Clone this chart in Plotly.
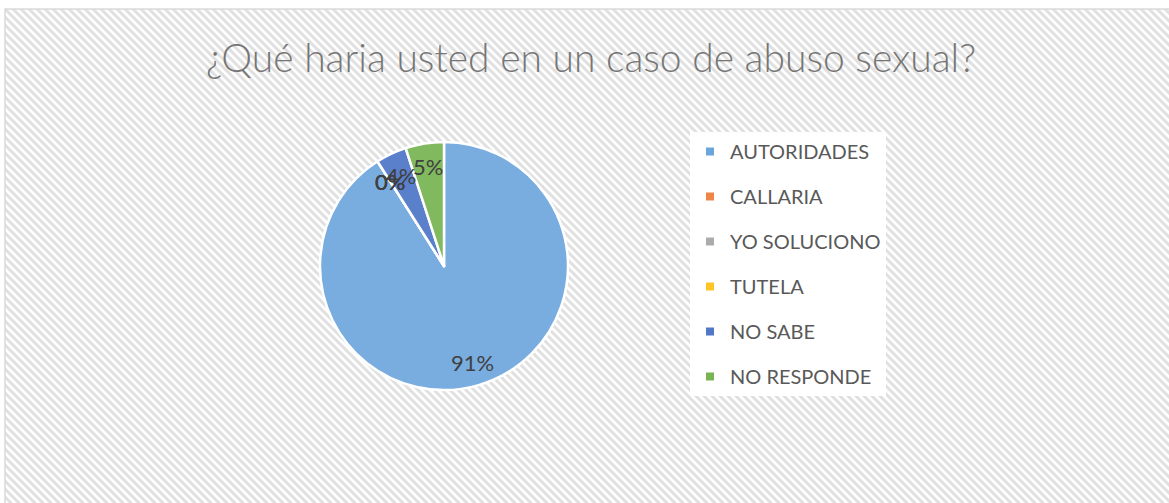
import base64, math
import plotly.graph_objects as go

W, H = 1169, 503

categories = ["AUTORIDADES", "CALLARIA", "YO SOLUCIONO", "TUTELA", "NO SABE", "NO RESPONDE"]
values = [91, 0, 0, 0, 4, 5]
slice_colors = ["#79ade0", "#ed7d31", "#a5a5a5", "#ffc000", "#5a80cc", "#80b95e"]
legend_colors = ["#6aa5dc", "#ee8648", "#acacac", "#ffc526", "#5377c8", "#79b452"]
title_text = "¿Qué haria usted en un caso de abuso sexual?"

# pie geometry (pixels)
CX, CY, R = 444, 266, 124

# hatched background (Excel "wide downward diagonal")
bw, bh = W - 5, H - 9
svg = (
    f"<svg xmlns='http://www.w3.org/2000/svg' width='{bw}' height='{bh}' viewBox='0 0 {bw} {bh}'>"
    "<defs><pattern id='p' width='8' height='8' patternUnits='userSpaceOnUse'>"
    "<rect width='8' height='8' fill='#ffffff'/>"
    "<path d='M-2,6 l4,4 M0,0 l8,8 M6,-2 l4,4' stroke='#e0e0e0' stroke-width='3'/>"
    "</pattern></defs>"
    f"<rect width='{bw}' height='{bh}' fill='url(#p)'/></svg>"
)
src = "data:image/svg+xml;base64," + base64.b64encode(svg.encode()).decode()

fig = go.Figure()
fig.add_trace(go.Pie(
    labels=categories, values=values, sort=False, direction="clockwise", rotation=0,
    marker=dict(colors=slice_colors, line=dict(color="white", width=2.5)),
    textinfo="none", showlegend=False, hoverinfo="label+percent",
    domain=dict(x=[(CX - R) / W, (CX + R) / W], y=[(H - CY - R) / H, (H - CY + R) / H]),
))

# legend entries via dummy traces (allows Excel-like spacing)
for cat, col in zip(categories, legend_colors):
    fig.add_trace(go.Scatter(
        x=[None], y=[None], mode="markers", name=cat, legendgroup=cat,
        marker=dict(symbol="square", size=8, color=col), hoverinfo="skip",
    ))

# data labels at 0.81 R along each slice's mid-angle
total = sum(values)
cum = 0
annotations = []
for v in values:
    mid = 90 - (cum + v / 2) / total * 360
    cum += v
    px = CX + 0.81 * R * math.cos(math.radians(mid))
    py = CY - 0.81 * R * math.sin(math.radians(mid))
    annotations.append(dict(
        x=px / W, y=1 - py / H, xref="paper", yref="paper", showarrow=False,
        text=f"{round(v / total * 100)}%", xanchor="center", yanchor="middle",
        font=dict(family="Lato, Open Sans, sans-serif", size=22, color="#404040"),
    ))

fig.update_layout(
    width=W, height=H, margin=dict(l=0, r=0, t=0, b=0),
    paper_bgcolor="white", plot_bgcolor="rgba(0,0,0,0)",
    xaxis=dict(visible=False), yaxis=dict(visible=False),
    images=[dict(source=src, xref="paper", yref="paper", x=5 / W, y=1 - 9 / H,
                 sizex=bw / W, sizey=bh / H, sizing="stretch", xanchor="left",
                 yanchor="top", layer="below")],
    shapes=[dict(type="rect", xref="paper", yref="paper", x0=5 / W, x1=1.01,
                 y0=-0.01, y1=1 - 9 / H, line=dict(color="#d9d9d9", width=1.5),
                 fillcolor="rgba(0,0,0,0)", layer="below")],
    title=dict(text=title_text, x=591 / W, xanchor="center", y=1 - 58 / H,
               yanchor="middle", xref="paper", yref="container",
               font=dict(family="Lato, Open Sans, sans-serif", size=39,
                         color="#767676", weight=300)),
    legend=dict(x=690 / W, y=1 - 132 / H, xanchor="left", yanchor="top",
                bgcolor="white", traceorder="grouped", tracegroupgap=16,
                font=dict(family="Lato, Open Sans, sans-serif", size=20, color="#595959"),
                itemclick=False, itemdoubleclick=False),
    annotations=annotations,
)

fig.write_html("out.html", config={"displayModeBar": False},
               post_script="document.body.style.margin='0';")
